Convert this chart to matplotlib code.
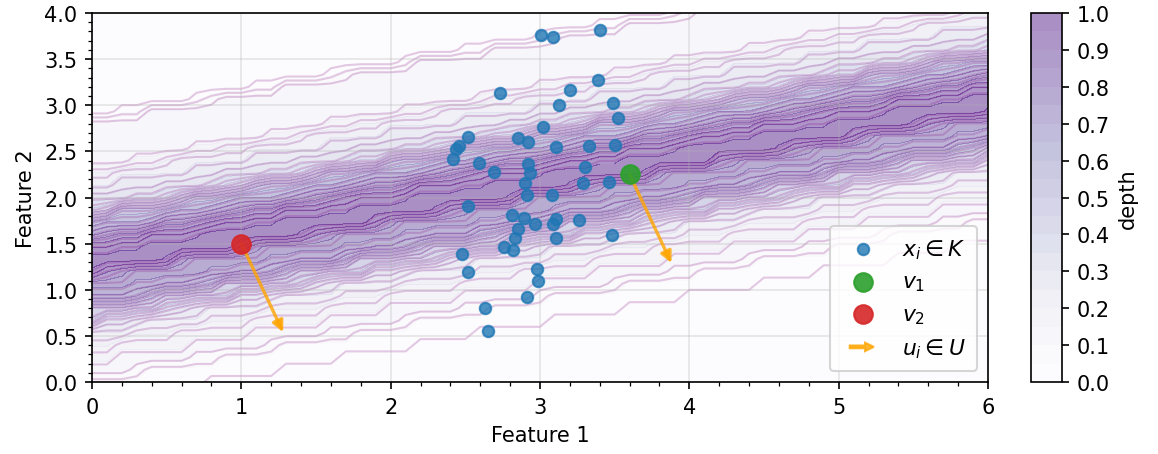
import numpy as np
import matplotlib.pyplot as plt
from matplotlib.patches import FancyArrow
from matplotlib.legend_handler import HandlerPatch
from matplotlib.ticker import MultipleLocator

# sample K
feat1 = [3.01, 3.09, 3.40, 2.73, 3.20, 3.39, 3.13, 3.49, 3.52, 3.02,
         2.52, 2.85, 2.92, 2.46, 2.44, 2.42, 3.11, 3.33, 3.50, 2.59,
         2.69, 2.92, 2.93, 3.30, 2.90, 3.29, 3.46, 2.91, 3.08, 2.52,
         2.81, 2.89, 3.11, 3.26, 2.97, 3.09, 2.85, 2.83, 3.11, 3.48,
         2.76, 2.82, 2.48, 2.52, 2.98, 2.99, 2.91, 2.63, 2.65]
feat2 = [3.76, 3.74, 3.82, 3.13, 3.17, 3.27, 3.00, 3.03, 2.86, 2.76,
         2.66, 2.64, 2.60, 2.56, 2.53, 2.42, 2.55, 2.56, 2.57, 2.37,
         2.28, 2.36, 2.27, 2.33, 2.16, 2.16, 2.17, 2.03, 2.03, 1.91,
         1.81, 1.78, 1.77, 1.76, 1.71, 1.71, 1.66, 1.56, 1.56, 1.59,
         1.46, 1.43, 1.39, 1.19, 1.23, 1.09, 0.92, 0.80, 0.55]

# query points and the projection direction
v1 = (3.6, 2.25)
v2 = (1.0, 1.5)
u = (0.28, -0.96)

pts = np.column_stack([feat1, feat2])
proj = pts @ np.array(u)

# projected (halfspace) depth along u on a coarse grid
gx = np.linspace(0, 6, 61)
gy = np.linspace(0, 4, 31)
GX, GY = np.meshgrid(gx, gy)
pz = GX * u[0] + GY * u[1]
below = (proj[None, None, :] <= pz[..., None]).mean(axis=-1)
above = (proj[None, None, :] >= pz[..., None]).mean(axis=-1)
depth = np.clip(2 * np.minimum(below, above), 0, 1)

fig = plt.figure(figsize=(7.72, 3.0333), dpi=150)
ax = fig.add_axes([0.0794, 0.1582, 0.7738, 0.811])
cax = fig.add_axes([0.8903, 0.1582, 0.0268, 0.811])

cf = ax.contourf(GX, GY, depth, levels=np.linspace(0, 1, 21), cmap='Purples', alpha=0.45, zorder=0)
ax.contour(GX, GY, depth, levels=np.arange(0.02, 1.0, 0.04), colors='purple',
           alpha=0.2, linewidths=1.0, zorder=1)

ax.scatter(feat1, feat2, s=30, color='tab:blue', alpha=0.8, zorder=3, label=r'$x_i \in K$')
ax.scatter(*v1, s=80, color='tab:green', alpha=0.9, zorder=4, label=r'$v_1$')
ax.scatter(*v2, s=80, color='tab:red', alpha=0.9, zorder=4, label=r'$v_2$')

for v in (v1, v2):
    ax.annotate('', xy=(v[0] + u[0], v[1] + u[1]), xytext=v,
                arrowprops=dict(arrowstyle='-|>', color='orange', alpha=0.8,
                                lw=1.6, mutation_scale=11, shrinkA=0, shrinkB=0),
                zorder=3)

arrow_proxy = FancyArrow(0, 0, 1, 0, color='orange', alpha=0.8, label=r'$u_i \in U$')


def make_arrow(legend, orig_handle, xdescent, ydescent, width, height, fontsize):
    return FancyArrow(0.2 * width, 0.5 * height, 0.55 * width, 0, width=0.18 * height,
                      head_width=0.55 * height, head_length=0.2 * width,
                      length_includes_head=True)


handles, labels = ax.get_legend_handles_labels()
handles.append(arrow_proxy)
labels.append(r'$u_i \in U$')
ax.legend(handles, labels, loc='lower right', fontsize=10.5, borderpad=0.5,
          handler_map={FancyArrow: HandlerPatch(patch_func=make_arrow)})

ax.set_xlim(0, 6)
ax.set_ylim(0, 4)
ax.xaxis.set_minor_locator(MultipleLocator(0.2))
ax.yaxis.set_major_locator(MultipleLocator(0.5))
ax.yaxis.set_minor_locator(MultipleLocator(0.1))
ax.grid(True, alpha=0.3)
ax.set_xlabel('Feature 1')
ax.set_ylabel('Feature 2')

cb = fig.colorbar(cf, cax=cax, ticks=np.linspace(0, 1, 11))
cb.set_label('depth')

fig.savefig('out.png', dpi=150)
